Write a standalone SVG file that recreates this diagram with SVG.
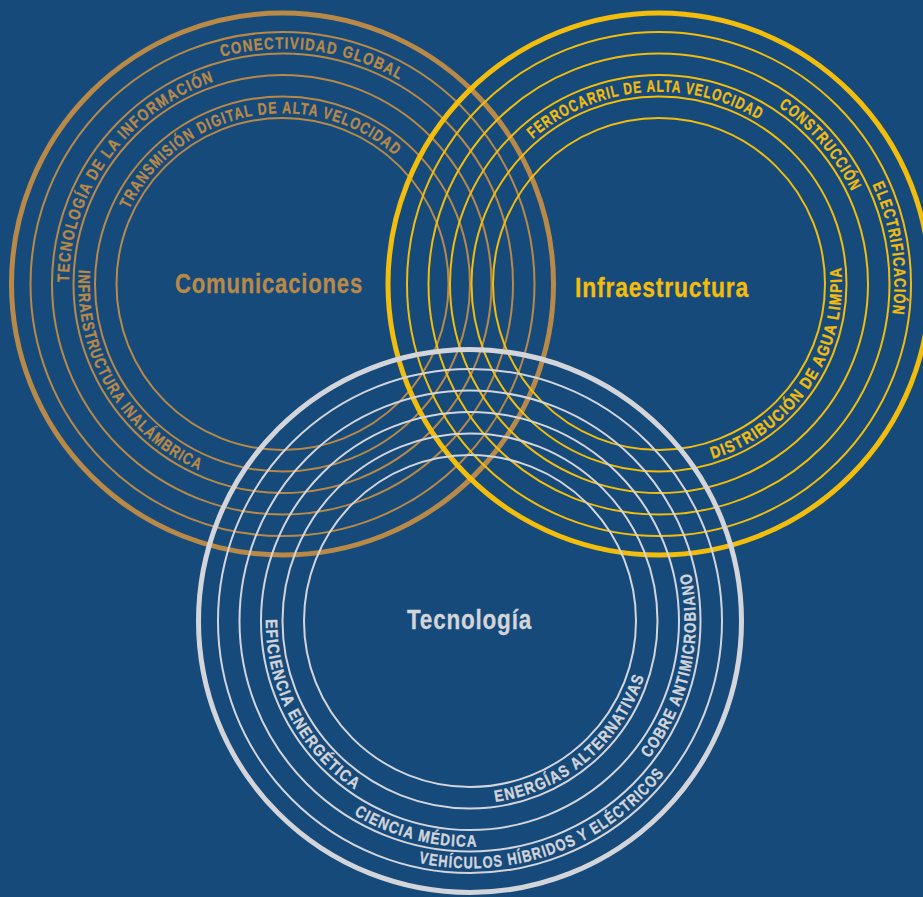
<svg xmlns="http://www.w3.org/2000/svg" width="923" height="897" viewBox="0 0 923 897">
<style>
.ring{fill:none;stroke-width:2}
.outer{fill:none;stroke-width:5}
#comunicaciones circle{stroke:#b98948}
#comunicaciones text{fill:#b98948;stroke:#b98948}
#infraestructura circle{stroke:#f3bd0c}
#infraestructura text{fill:#f3bd0c;stroke:#f3bd0c}
#tecnologia circle{stroke:#d3d5da}
#tecnologia text{fill:#d3d5da;stroke:#d3d5da}
text{font-family:'Liberation Sans',Arial,sans-serif;font-weight:bold;stroke-width:0.35}
.lbl{font-size:16.5px;letter-spacing:1.5px}
.title{font-size:28px;letter-spacing:1px;stroke-width:0.3}
</style>
<defs>
<path id="p1" d="M221.61,56.77 A235.25,235.25 0 0 1 400.13,80.27"/>
<path id="p2" d="M68.76,282.13 A213.75,213.75 0 0 1 214.68,81.30"/>
<path id="p3" d="M129.03,209.15 A170.75,170.75 0 0 1 395.64,156.12"/>
<path id="p4" d="M78.75,269.75 A204.25,204.25 0 0 0 199.42,470.59"/>
<path id="p5" d="M532.87,138.91 A192.25,192.25 0 0 1 759.45,120.08"/>
<path id="p6" d="M778.53,106.79 A213.75,213.75 0 0 1 851.93,191.98"/>
<path id="p7" d="M872.21,184.58 A235.25,235.25 0 0 1 892.24,314.71"/>
<path id="p8" d="M712.43,458.76 A182.75,182.75 0 0 0 840.91,266.48"/>
<path id="p9" d="M265.76,619.22 A204.25,204.25 0 0 0 355.78,790.33"/>
<path id="p10" d="M495.43,801.97 A182.75,182.75 0 0 0 644.29,675.95"/>
<path id="p11" d="M353.73,814.51 A225.75,225.75 0 0 0 477.88,846.61"/>
<path id="p12" d="M418.59,862.85 A247.25,247.25 0 0 0 664.84,773.22"/>
<path id="p13" d="M649.10,758.43 A225.75,225.75 0 0 0 690.40,572.14"/>
</defs>
<rect width="923" height="897" fill="#164a7b"/>
<g id="comunicaciones">
<circle class="ring" cx="282.5" cy="284" r="252"/>
<circle class="ring" cx="282.5" cy="284" r="230.5"/>
<circle class="ring" cx="282.5" cy="284" r="209"/>
<circle class="ring" cx="282.5" cy="284" r="187.5"/>
<circle class="ring" cx="282.5" cy="284" r="166"/>
<circle class="outer" cx="282.5" cy="284" r="271"/>
<text class="title" x="175" y="293" textLength="188" lengthAdjust="spacingAndGlyphs">Comunicaciones</text>
<text class="lbl"><textPath href="#p1" textLength="184.8" lengthAdjust="spacingAndGlyphs">CONECTIVIDAD GLOBAL</textPath></text>
<text class="lbl"><textPath href="#p2" textLength="264.9" lengthAdjust="spacingAndGlyphs">TECNOLOGÍA DE LA INFORMACIÓN</textPath></text>
<text class="lbl"><textPath href="#p3" textLength="314.4" lengthAdjust="spacingAndGlyphs">TRANSMISIÓN DIGITAL DE ALTA VELOCIDAD</textPath></text>
<text class="lbl"><textPath href="#p4" textLength="249.5" lengthAdjust="spacingAndGlyphs">INFRAESTRUCTURA INALÁMBRICA</textPath></text>
</g>
<g id="infraestructura">
<circle class="ring" cx="659" cy="284" r="252"/>
<circle class="ring" cx="659" cy="284" r="230.5"/>
<circle class="ring" cx="659" cy="284" r="209"/>
<circle class="ring" cx="659" cy="284" r="187.5"/>
<circle class="ring" cx="659" cy="284" r="166"/>
<circle class="outer" cx="659" cy="284" r="271"/>
<text class="title" x="575" y="297" textLength="174" lengthAdjust="spacingAndGlyphs">Infraestructura</text>
<text class="lbl"><textPath href="#p5" textLength="243.3" lengthAdjust="spacingAndGlyphs">FERROCARRIL DE ALTA VELOCIDAD</textPath></text>
<text class="lbl"><textPath href="#p6" textLength="113.8" lengthAdjust="spacingAndGlyphs">CONSTRUCCIÓN</textPath></text>
<text class="lbl"><textPath href="#p7" textLength="133.4" lengthAdjust="spacingAndGlyphs">ELECTRIFICACIÓN</textPath></text>
<text class="lbl"><textPath href="#p8" textLength="250.4" lengthAdjust="spacingAndGlyphs">DISTRIBUCIÓN DE AGUA LIMPIA</textPath></text>
</g>
<g id="tecnologia">
<circle class="ring" cx="470" cy="621" r="252"/>
<circle class="ring" cx="470" cy="621" r="230.5"/>
<circle class="ring" cx="470" cy="621" r="209"/>
<circle class="ring" cx="470" cy="621" r="187.5"/>
<circle class="ring" cx="470" cy="621" r="166"/>
<circle class="outer" cx="470" cy="621" r="271.5"/>
<text class="title" x="407" y="629" textLength="125" lengthAdjust="spacingAndGlyphs">Tecnología</text>
<text class="lbl"><textPath href="#p9" textLength="201.4" lengthAdjust="spacingAndGlyphs">EFICIENCIA ENERGÉTICA</textPath></text>
<text class="lbl"><textPath href="#p10" textLength="205.7" lengthAdjust="spacingAndGlyphs">ENERGÍAS ALTERNATIVAS</textPath></text>
<text class="lbl"><textPath href="#p11" textLength="130.0" lengthAdjust="spacingAndGlyphs">CIENCIA MÉDICA</textPath></text>
<text class="lbl"><textPath href="#p12" textLength="276.2" lengthAdjust="spacingAndGlyphs">VEHÍCULOS HÍBRIDOS Y ELÉCTRICOS</textPath></text>
<text class="lbl"><textPath href="#p13" textLength="197.0" lengthAdjust="spacingAndGlyphs">COBRE ANTIMICROBIANO</textPath></text>
</g>
</svg>
